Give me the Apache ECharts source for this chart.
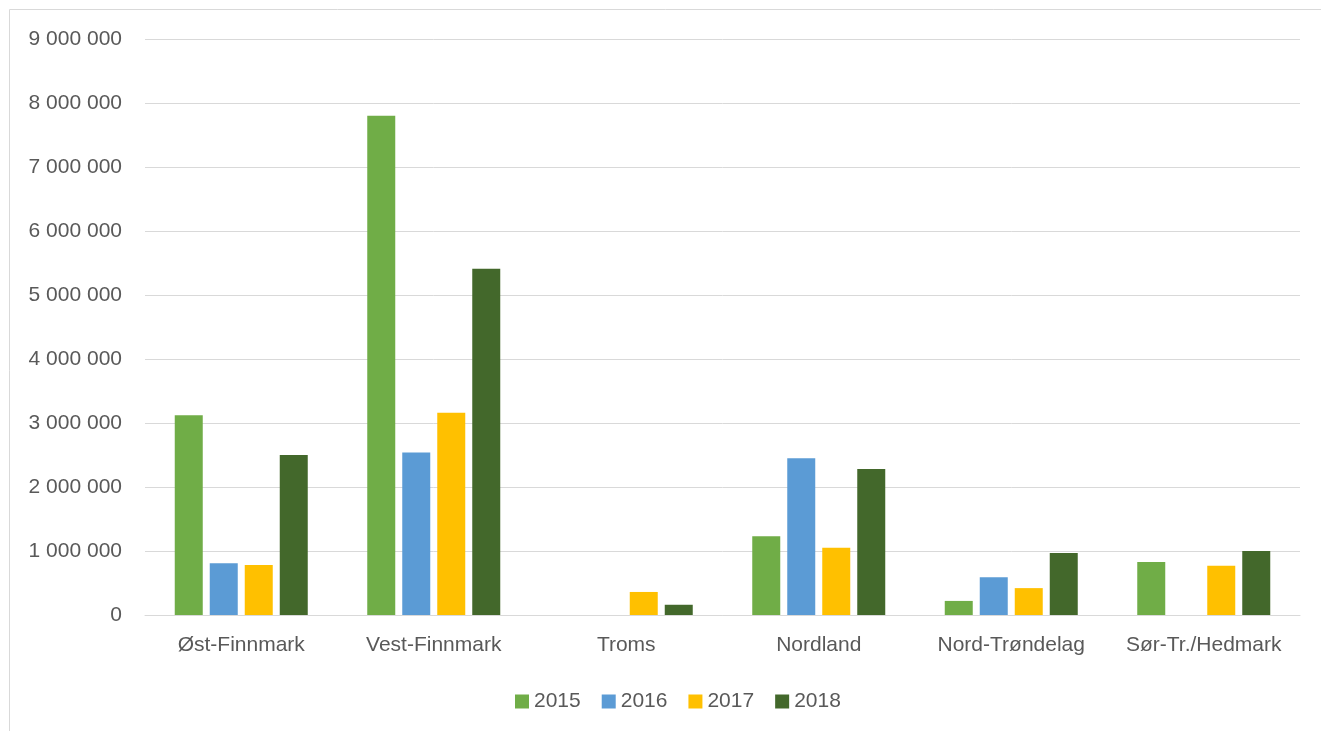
<!DOCTYPE html>
<html><head><meta charset="utf-8">
<script src="https://cdn.jsdelivr.net/npm/echarts@6/dist/echarts.min.js"></script>
<style>html,body{margin:0;padding:0;background:#fff}#c{width:1321px;height:731px}</style>
</head><body><div id="c"></div>
<script>
const categories = ['Øst-Finnmark','Vest-Finnmark','Troms','Nordland','Nord-Trøndelag','Sør-Tr./Hedmark'];
const years = ['2015','2016','2017','2018'];
const v2015 = [3120000, 7800000, 0, 1230000, 220000, 830000];
const v2016 = [810000, 2540000, 0, 2450000, 590000, 0];
const v2017 = [780000, 3160000, 360000, 1050000, 420000, 770000];
const v2018 = [2500000, 5410000, 160000, 2280000, 970000, 1000000];
const colors = ['#70AD47','#5B9BD5','#FFC000','#43682B'];
const font = 'Liberation Sans';
const chart = echarts.init(document.getElementById('c'));
const seriesData = [v2015, v2016, v2017, v2018];
chart.setOption({
  animation: false,
  textStyle: {fontFamily: font},
  graphic: [{type:'rect', shape:{x:9.5,y:9.5,width:1400,height:800}, style:{fill:null, stroke:'#d9d9d9', lineWidth:1}, silent:true}],
  grid: {left:145, right:21, top:39, bottom:116, containLabel:false},
  legend: {bottom:14, left:510, itemWidth:14, itemHeight:14, itemGap:21,
    textStyle:{color:'#595959', fontSize:21, fontFamily:font},
    data: years.map((y,i)=>({name:y, icon:'rect'}))},
  xAxis: {type:'category', data:categories,
    axisLine:{lineStyle:{color:'#d9d9d9', width:1}}, axisTick:{show:false},
    axisLabel:{color:'#595959', fontSize:21, margin:20, interval:0, fontFamily:font}},
  yAxis: {type:'value', min:0, max:9000000, interval:1000000,
    axisLine:{show:false}, axisTick:{show:false},
    splitLine:{lineStyle:{color:'#d9d9d9', width:1}},
    axisLabel:{color:'#595959', fontSize:21, margin:23, fontFamily:font,
      formatter: v => String(v).replace(/\B(?=(\d{3})+(?!\d))/g,' ')}},
  series: years.map((y,i)=>({name:y, type:'bar', data:seriesData[i],
    itemStyle:{color:colors[i]}, barWidth:28, barGap:'25%', barCategoryGap:'31%'}))
});
</script></body></html>
